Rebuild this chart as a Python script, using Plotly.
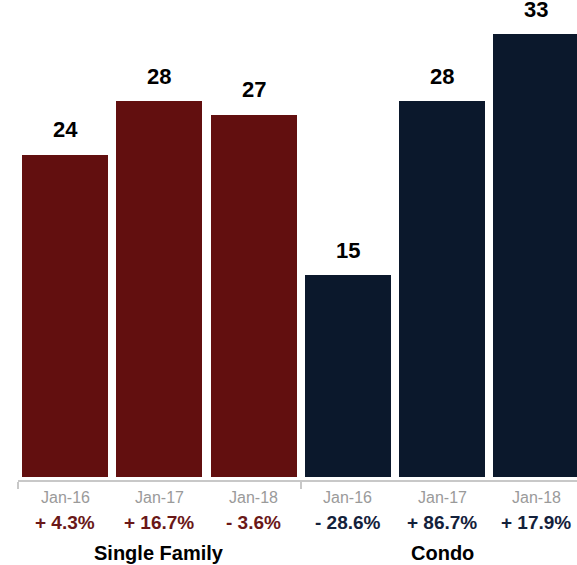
import plotly.graph_objects as go

# Median days on market by property type and January period
groups = ["Single Family", "Condo"]
months = ["Jan-16", "Jan-17", "Jan-18"]
single_family = [24, 28, 27]
condo = [15, 28, 33]
sf_change = ["+ 4.3%", "+ 16.7%", "- 3.6%"]
condo_change = ["- 28.6%", "+ 86.7%", "+ 17.9%"]

SF_COLOR = "#620f0f"
CONDO_COLOR = "#0b182c"
SF_TEXT = "#6a1818"
CONDO_TEXT = "#13213b"
FONT = "Liberation Sans, Arial, Helvetica, sans-serif"

series = [
    (single_family, sf_change, SF_COLOR, SF_TEXT),
    (condo, condo_change, CONDO_COLOR, CONDO_TEXT),
]

fig = go.Figure()
annotations = []
pos = 0
group_centers = []
for (values, changes, bar_color, text_color) in series:
    xs = list(range(pos, pos + len(values)))
    group_centers.append(xs[len(xs) // 2])
    fig.add_trace(go.Bar(
        x=xs, y=values, width=0.912,
        marker=dict(color=bar_color, line=dict(width=0)),
        hoverinfo="skip", showlegend=False,
    ))
    for x, v, m, c in zip(xs, values, months, changes):
        annotations.append(dict(
            x=x, y=v, xref="x", yref="y", text=f"<b>{v}</b>",
            showarrow=False, yanchor="middle", yshift=25,
            font=dict(family=FONT, size=22, color="#000000"),
        ))
        annotations.append(dict(
            x=x, y=0, xref="x", yref="paper", text=m,
            showarrow=False, yanchor="middle", yshift=-17,
            font=dict(family=FONT, size=16, color="#9a9a9a"),
        ))
        annotations.append(dict(
            x=x, y=0, xref="x", yref="paper", text=f"<b>{c}</b>",
            showarrow=False, yanchor="middle", yshift=-42,
            font=dict(family=FONT, size=19, color=text_color),
        ))
    pos += len(values)

for name, cx in zip(groups, group_centers):
    annotations.append(dict(
        x=cx, y=0, xref="x", yref="paper", text=f"<b>{name}</b>",
        showarrow=False, yanchor="middle", yshift=-73,
        font=dict(family=FONT, size=20, color="#000000"),
    ))

fig.update_layout(
    width=577, height=565,
    margin=dict(l=18, r=0, t=0, b=85),
    paper_bgcolor="white", plot_bgcolor="white",
    bargap=0,
    annotations=annotations,
    xaxis=dict(
        range=[-0.5, 5.43], showgrid=False, zeroline=False,
        showline=True, linecolor="#c8c8c8", linewidth=2,
        tickmode="array", tickvals=[-0.5, 2.5], showticklabels=False,
        ticks="outside", ticklen=7, tickwidth=2, tickcolor="#c8c8c8",
    ),
    yaxis=dict(
        range=[-0.26, 35.55], showgrid=False, zeroline=False,
        showline=False, showticklabels=False, ticks="",
    ),
)

fig.write_html("out.html")
